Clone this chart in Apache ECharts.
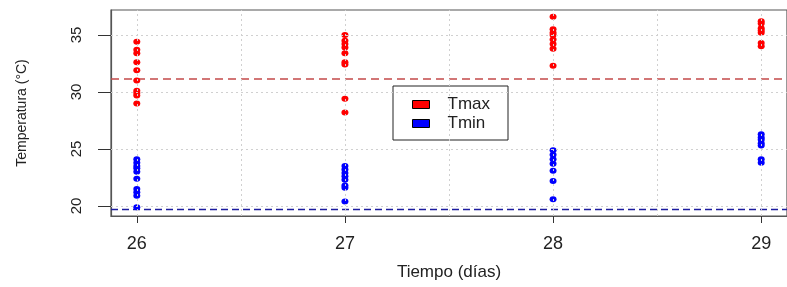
<!DOCTYPE html>
<html>
<head>
<meta charset="utf-8">
<script src="https://cdn.jsdelivr.net/npm/echarts@6/dist/echarts.min.js"></script>
<style>
html,body{margin:0;padding:0;background:#fff;}
#chart{width:787px;height:287px;}
</style>
</head>
<body>
<div id="chart"></div>
<script>
// dias del eje x
var dias = [26, 27, 28, 29];
// temperaturas maximas por dia
var tmax26 = [34.4, 33.7, 33.4, 32.6, 31.9, 31.0, 30.1, 29.9, 29.7, 29.0];
var tmax27 = [35.0, 34.5, 34.2, 33.9, 33.4, 32.6, 32.4, 29.4, 28.2];
var tmax28 = [36.6, 35.5, 35.2, 35.0, 34.6, 34.2, 33.8, 32.3];
var tmax29 = [36.2, 36.0, 35.6, 35.4, 35.2, 34.3, 34.0];
// temperaturas minimas por dia
var tmin26 = [24.1, 23.8, 23.5, 23.3, 23.0, 22.4, 21.5, 21.2, 20.9, 19.9];
var tmin27 = [23.5, 23.2, 22.9, 22.6, 22.3, 21.8, 21.6, 20.4];
var tmin28 = [24.9, 24.5, 24.1, 23.7, 23.1, 22.2, 20.6];
var tmin29 = [26.3, 26.0, 25.8, 25.5, 25.3, 24.1, 23.8];
// lineas de referencia (medias)
var refTmax = 31.14;
var refTmin = 19.69;
// marcas de los ejes
var ticksY = [20, 25, 30, 35];
var gridX = [26, 26.5, 27, 27.5, 28, 28.5, 29];
var xMin = 25.876, xMax = 29.124;

var toPuntos = function(dia, valores){
    return valores.map(function(v){ return [dia, v]; });
};
var datosTmax = [].concat(
    toPuntos(dias[0], tmax26), toPuntos(dias[1], tmax27),
    toPuntos(dias[2], tmax28), toPuntos(dias[3], tmax29));
var datosTmin = [].concat(
    toPuntos(dias[0], tmin26), toPuntos(dias[1], tmin27),
    toPuntos(dias[2], tmin28), toPuntos(dias[3], tmin29));

var fuente = 'Liberation Sans, Arial, sans-serif';

// rejilla punteada con markLine
var rejilla = function(nombre, datos){
    return {
        name: nombre,
        type: 'line',
        data: [],
        silent: true,
        z: 1,
        markLine: {
            silent: true,
            symbol: 'none',
            label: {show: false},
            lineStyle: {color: '#d0d0d0', width: 1, type: [2, 3]},
            data: datos
        }
    };
};
// linea horizontal discontinua de lado a lado
var lineaMedia = function(nombre, valor, color, dash){
    return {
        name: nombre,
        type: 'line',
        silent: true,
        symbol: 'none',
        z: 2,
        color: color,
        lineStyle: {color: color, width: 1.4, type: dash, opacity: 1},
        data: [[xMin, valor], [xMax, valor]]
    };
};

var chart = echarts.init(document.getElementById('chart'));
chart.setOption({
    animation: false,
    backgroundColor: '#fff',
    textStyle: {fontFamily: fuente},
    grid: {
        left: 111, top: 10, right: -2, bottom: 71,
        show: true, borderColor: '#555', borderWidth: 1.2
    },
    legend: {
        left: 393, top: 86,
        orient: 'vertical',
        backgroundColor: '#fff',
        borderColor: '#222', borderWidth: 1,
        padding: [10, 18, 8, 19],
        itemGap: 2,
        itemWidth: 17, itemHeight: 8,
        itemStyle: {borderColor: '#000', borderWidth: 1},
        textStyle: {fontSize: 17, color: '#222', padding: [0, 0, 0, 13]},
        data: [{name: 'Tmax', icon: 'rect'}, {name: 'Tmin', icon: 'rect'}]
    },
    xAxis: {
        type: 'value',
        min: xMin, max: xMax,
        name: 'Tiempo (días)',
        nameLocation: 'middle',
        nameGap: 48,
        nameTextStyle: {fontSize: 17, color: '#222'},
        axisLine: {show: true, onZero: false, lineStyle: {color: '#555', width: 1.2}},
        axisTick: {show: true, length: 7, customValues: dias, lineStyle: {color: '#333'}},
        axisLabel: {fontSize: 18, color: '#222', margin: 19, customValues: dias},
        splitLine: {show: false}
    },
    yAxis: {
        type: 'value',
        min: 19.123, max: 37.19,
        axisLine: {show: true, onZero: false, lineStyle: {color: '#555', width: 1.2}},
        axisTick: {show: true, length: 13, customValues: ticksY, lineStyle: {color: '#333'}},
        axisLabel: {fontSize: 15, color: '#222', rotate: 90, margin: 27, customValues: ticksY},
        splitLine: {show: false}
    },
    graphic: [{
        type: 'text',
        x: 22, y: 113,
        rotation: Math.PI / 2,
        style: {
            text: 'Temperatura (°C)',
            fontSize: 14, fontFamily: fuente, fill: '#222',
            align: 'center', verticalAlign: 'middle'
        }
    }],
    series: [
        rejilla('rejillaX', gridX.map(function(x){ return {xAxis: x}; })),
        rejilla('rejillaY', ticksY.map(function(y){ return {yAxis: y}; })),
        lineaMedia('mediaTmax', refTmax, '#c44a4a', [8, 5]),
        lineaMedia('mediaTmin', refTmin, '#1c1ca0', [7, 4]),
        {
            name: 'Tmax',
            type: 'scatter',
            symbol: 'circle',
            symbolSize: [7, 6],
            itemStyle: {color: '#ff0000', opacity: 1},
            z: 3,
            data: datosTmax
        },
        {
            name: 'Tmin',
            type: 'scatter',
            symbol: 'circle',
            symbolSize: [7, 6],
            itemStyle: {color: '#0000ff', opacity: 1},
            z: 3,
            data: datosTmin
        }
    ]
});
</script>
</body>
</html>
